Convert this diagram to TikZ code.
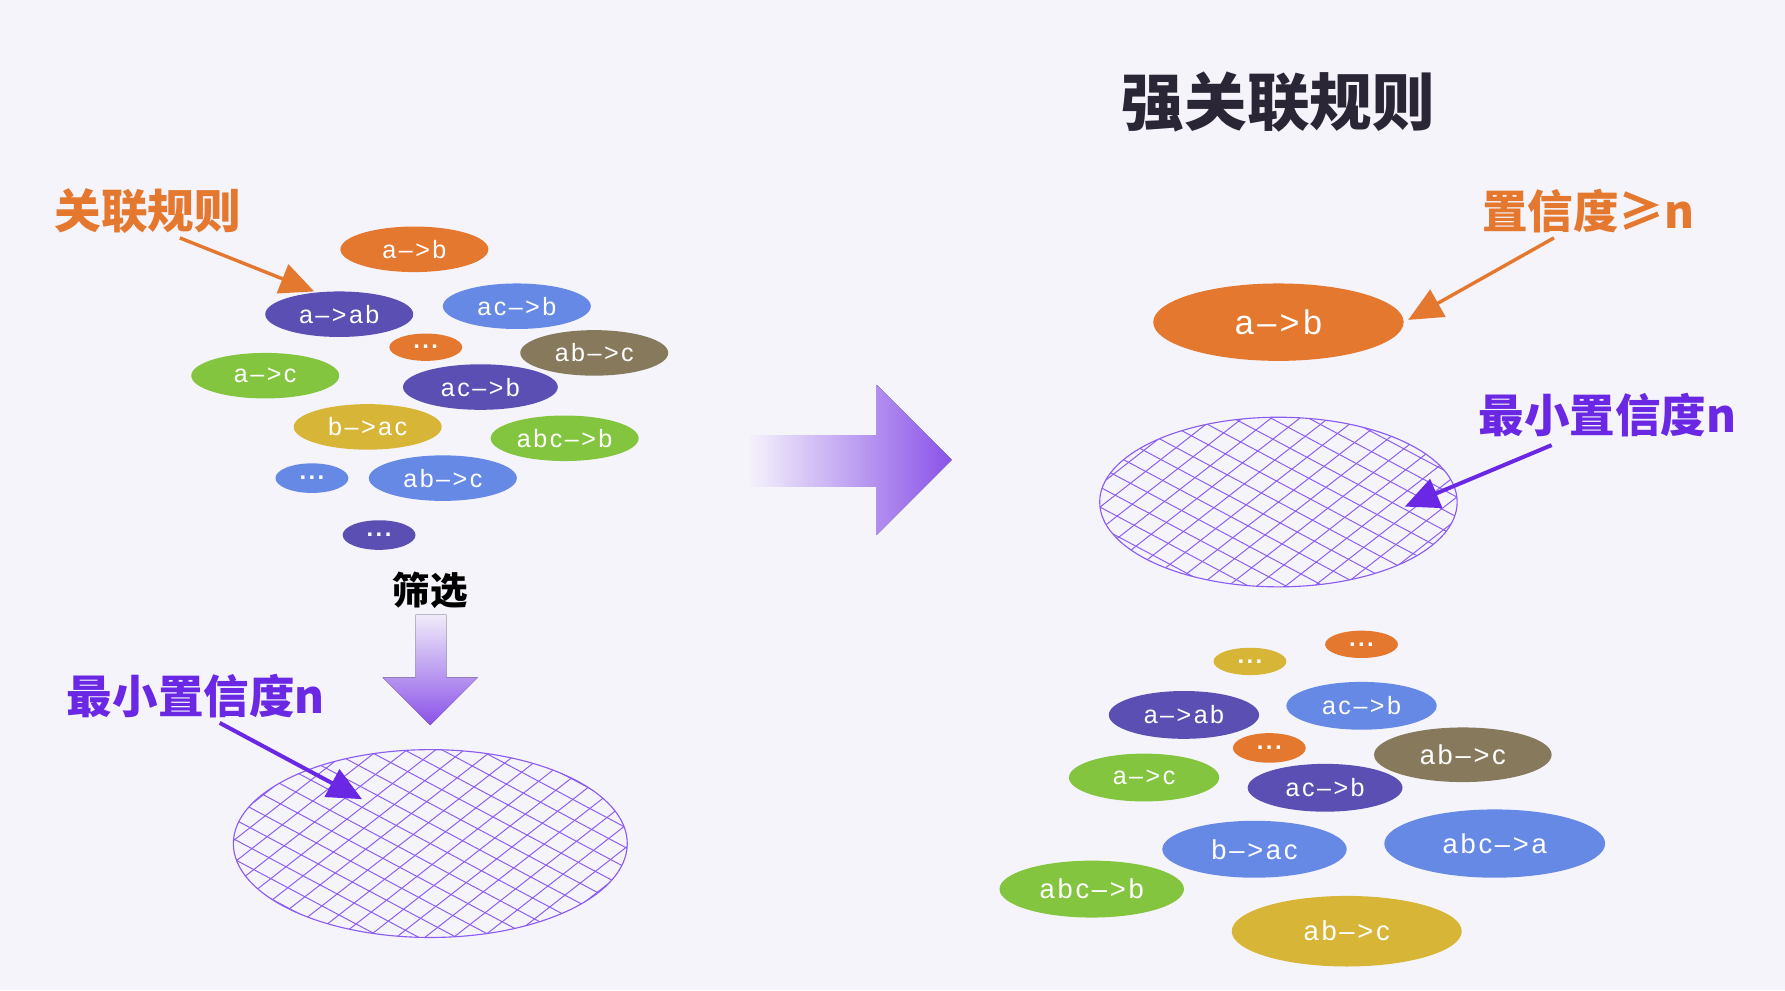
\documentclass[tikz,border=0pt]{standalone}
\usepackage{fontspec}
\setmainfont{Liberation Sans}
\newfontfamily\rulefont[LetterSpace=10]{Liberation Sans}
\newfontfamily\cjk{Noto Sans CJK SC}
\usetikzlibrary{arrows.meta,shapes.geometric}
\definecolor{bgc}{HTML}{F6F4FB}
\definecolor{corange}{HTML}{E5782F}
\definecolor{cpurple}{HTML}{5B4FB3}
\definecolor{cblue}{HTML}{6689E6}
\definecolor{colive}{HTML}{877A5C}
\definecolor{cgreen}{HTML}{84C540}
\definecolor{cyellow}{HTML}{D6B537}
\definecolor{cviolet}{HTML}{6A28E4}
\definecolor{ctitle}{HTML}{2B2636}
\definecolor{carrow}{HTML}{8A52E8}
\definecolor{chatch}{HTML}{8B5CF0}
\definecolor{cfade}{HTML}{F0EBFA}
\newcommand\hatchfam[1]{%
  \foreach \k in {-26,...,26}{
    \draw[hatchline] (path picture bounding box.center)
      ++({-450*cos(#1)-\k*15.5*sin(#1)},{-450*sin(#1)+\k*15.5*cos(#1)})
      -- ++({900*cos(#1)},{900*sin(#1)});
  }}
\tikzset{
  rule/.style={ellipse, inner sep=0pt, text=white, font=\rulefont\fontsize{22}{22}\selectfont},
  bigrule/.style={rule, font=\rulefont\fontsize{24}{24}\selectfont},
  dots/.style={ellipse, inner sep=0pt, text=white, font=\rulefont\bfseries\fontsize{21}{21}\selectfont},
  hatchline/.style={chatch, line width=0.85pt},
  hatched/.style={ellipse, draw=chatch, line width=1pt, inner sep=0pt,
    path picture={\hatchfam{-38}\hatchfam{28}}},
  cjklabel/.style={inner sep=0pt, font=\cjk\bfseries\fontsize{40}{40}\selectfont},
  orangearrow/.style={corange, line width=3pt, -{Triangle[length=30pt,width=27pt]}},
  violetarrow/.style={cviolet, line width=3.5pt, -{Triangle[length=30pt,width=27pt]}},
}
\begin{document}
\begin{tikzpicture}[x=1pt,y=-1pt]
\useasboundingbox (0,0) rectangle (1568,870);
\fill[bgc] (0,0) rectangle (1568,870);

% titles and labels
\node[cjklabel, text=ctitle, font=\cjk\bfseries\fontsize{55}{55}\selectfont] (title) at (1123,90) {强关联规则};
\node[cjklabel, text=corange, font=\cjk\bfseries\fontsize{41}{41}\selectfont] (lblrules) at (130,185) {关联规则};
\node[cjklabel, text=black, font=\cjk\bfseries\fontsize{33}{33}\selectfont] (filter) at (378,519) {筛选};
\node[cjklabel, text=cviolet] (minL) at (172,611) {最小置信度n};
\node[cjklabel, text=cviolet] (minR) at (1412,365) {最小置信度n};
\node[cjklabel, text=corange] (confR) at (1395,185) {置信度≥n};

% left cloud of rules
\node[rule, fill=corange, minimum width=130, minimum height=40] (L1) at (364,219) {a–>b};
\node[rule, fill=cpurple, minimum width=130, minimum height=40] (L2) at (298,276) {a–>ab};
\node[rule, fill=cblue, minimum width=130, minimum height=40] (L3) at (454,269) {ac–>b};
\node[dots, fill=corange, minimum width=64, minimum height=24] (L4) at (374,305) {...};
\node[rule, fill=colive, minimum width=130, minimum height=40] (L5) at (522,310) {ab–>c};
\node[rule, fill=cgreen, minimum width=130, minimum height=40] (L6) at (233,330) {a–>c};
\node[rule, fill=cpurple, minimum width=136, minimum height=40] (L7) at (422,340) {ac–>b};
\node[rule, fill=cyellow, minimum width=130, minimum height=40] (L8) at (323,375) {b–>ac};
\node[rule, fill=cgreen, minimum width=130, minimum height=40] (L9) at (496,385) {abc–>b};
\node[dots, fill=cblue, minimum width=64, minimum height=26] (L10) at (274,420) {...};
\node[rule, fill=cblue, minimum width=130, minimum height=40] (L11) at (389,420) {ab–>c};
\node[dots, fill=cpurple, minimum width=64, minimum height=26] (L12) at (333,470) {...};

% hatched sets
\node[hatched, minimum width=346, minimum height=165] (hatchL) at (378,741) {};
\node[hatched, minimum width=314, minimum height=149] (hatchR) at (1123,441) {};

% strong rule
\node[rule, fill=corange, minimum width=220, minimum height=68, font=\rulefont\fontsize{30}{30}\selectfont] (T1) at (1123,283) {a–>b};

% right cloud of rules
\node[dots, fill=cyellow, minimum width=64, minimum height=24] (R1) at (1098,581) {...};
\node[dots, fill=corange, minimum width=64, minimum height=24] (R2) at (1196,566) {...};
\node[rule, fill=cpurple, minimum width=132, minimum height=42] (R3) at (1040,628) {a–>ab};
\node[rule, fill=cblue, minimum width=132, minimum height=42] (R4) at (1196,620) {ac–>b};
\node[dots, fill=corange, minimum width=64, minimum height=26] (R5) at (1115,657) {...};
\node[bigrule, fill=colive, minimum width=156, minimum height=48] (R6) at (1285,663) {ab–>c};
\node[rule, fill=cgreen, minimum width=132, minimum height=42] (R7) at (1005,683) {a–>c};
\node[rule, fill=cpurple, minimum width=136, minimum height=42] (R8) at (1164,692) {ac–>b};
\node[bigrule, fill=cblue, minimum width=162, minimum height=50] (R9) at (1102,746) {b–>ac};
\node[bigrule, fill=cblue, minimum width=194, minimum height=60] (R10) at (1313,741) {abc–>a};
\node[bigrule, fill=cgreen, minimum width=162, minimum height=50] (R11) at (959,781) {abc–>b};
\node[bigrule, fill=cyellow, minimum width=202, minimum height=62] (R12) at (1183,818) {ab–>c};

% big gradient arrows
\fill[top color=cfade, bottom color=carrow]
  (365,540) -- (392,540) -- (392,595) -- (420,595) -- (378,637) -- (336,595) -- (365,595) -- cycle;
\foreach \i in {0,...,45}{
  \pgfmathsetmacro\p{\i*62/45}
  \fill[carrow!\p!bgc] ({655+\i*115/46},382) rectangle ({655+(\i+1)*115/46+0.7},428);
}
\fill[left color=carrow!63!bgc, right color=carrow]
  (770,338) -- (836,404) -- (770,470) -- cycle;

% label pointers
\coordinate (p1s) at (158,209);
\coordinate (p1e) at (276,256);
\coordinate (p2s) at (193,635);
\coordinate (p2e) at (318,702);
\coordinate (p3s) at (1365,209);
\coordinate (p3e) at (1237,281);
\coordinate (p4s) at (1363,391);
\coordinate (p4e) at (1234,445);
\draw[orangearrow] (p1s) -- (p1e);
\draw[violetarrow] (p2s) -- (p2e);
\draw[orangearrow] (p3s) -- (p3e);
\draw[violetarrow] (p4s) -- (p4e);
\end{tikzpicture}
\end{document}
